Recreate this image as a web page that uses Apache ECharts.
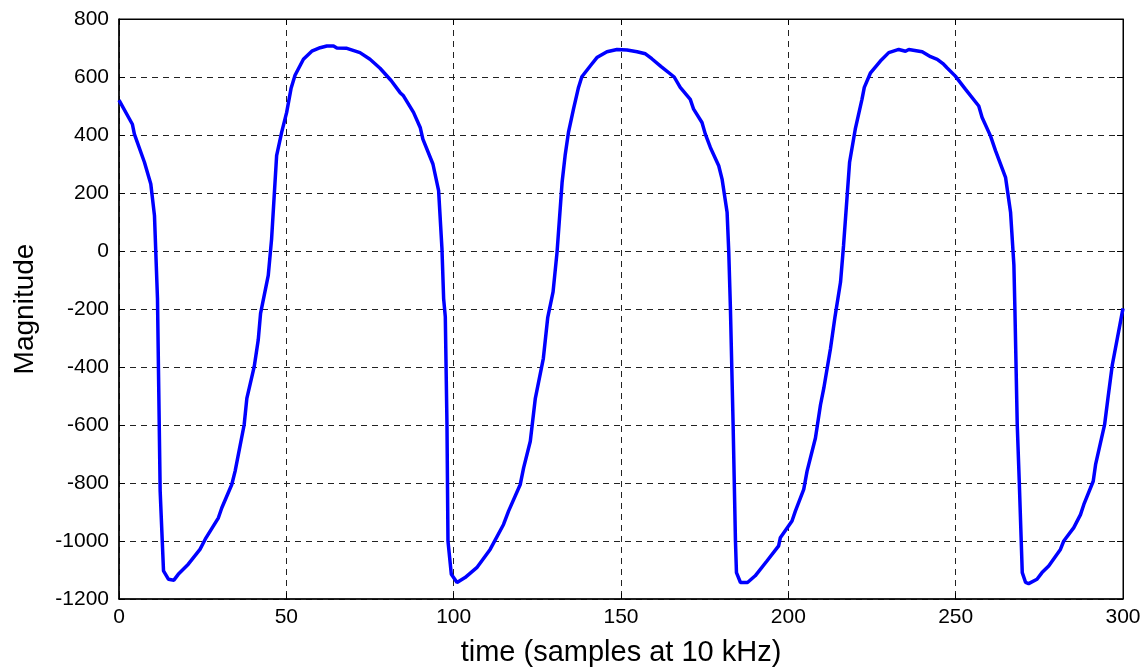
<!DOCTYPE html>
<html>
<head>
<meta charset="utf-8">
<script src="https://cdn.jsdelivr.net/npm/echarts@6/dist/echarts.min.js"></script>
<style>
html,body{margin:0;padding:0;background:#fff;}
#chart{width:1147px;height:672px;}
</style>
</head>
<body>
<div id="chart"></div>
<script>
// Data
var sampleX = [0,4.0,4.6,7.6,9.5,10.6,11.5,12.3,13.3,14.8,16.4,17.7,20.7,24.2,26.0,29.7,30.7,33.7,34.7,37.4,38.2,40.4,41.6,42.3,44.6,45.6,47.1,48.6,50.1,51.4,52.6,55.1,57.6,60.1,62.1,64.1,65.1,68.1,72.0,75.0,78.0,81.3,84.0,85.0,88.0,90.0,90.8,93.8,95.5,96.5,97.0,97.5,98.0,98.3,99.3,101.0,103.4,106.9,110.9,114.9,116.4,119.9,120.9,122.9,124.4,126.8,128.1,129.7,130.9,132.4,133.3,134.3,135.8,137.3,138.3,140.8,142.8,145.8,148.8,151.8,154.8,157.3,159.2,162.0,165.9,167.7,170.7,171.7,174.2,175.2,176.7,179.2,180.2,181.7,182.2,182.7,183.5,184.2,184.5,185.7,187.8,190.1,193.6,197.1,197.6,201.1,202.1,204.6,205.6,208.1,209.6,210.6,212.6,213.9,215.6,216.5,218.3,220.0,222.0,222.7,224.5,227.5,230.0,233.0,235.0,236.0,240.0,242.5,244.5,246.4,247.4,249.9,252.9,256.9,257.9,260.4,261.9,264.9,266.4,267.4,267.7,268.4,269.0,269.9,270.9,271.8,274.3,275.8,277.8,281.3,282.3,285.3,287.3,288.3,291.1,291.8,294.5,295.5,296.8,300];
var magnitude = [520,437,403,306,231,122,-164,-828,-1103,-1132,-1135,-1115,-1080,-1029,-989,-920,-886,-805,-759,-599,-508,-399,-307,-215,-84,42,329,409,478,560,606,661,689,701,707,707,700,699,684,661,630,588,546,535,478,426,386,300,208,8,-164,-227,-599,-1000,-1115,-1143,-1126,-1092,-1029,-943,-897,-805,-748,-656,-508,-370,-230,-141,-3,237,329,409,489,564,601,638,667,687,695,693,687,680,663,636,600,564,523,489,443,403,357,294,248,134,-3,-200,-599,-1000,-1109,-1143,-1143,-1120,-1069,-1017,-989,-931,-897,-822,-759,-645,-531,-473,-336,-230,-107,19,306,420,523,564,613,655,684,695,689,695,687,670,661,644,632,603,558,500,460,397,346,254,134,-49,-200,-599,-794,-1109,-1143,-1147,-1132,-1109,-1086,-1029,-1000,-954,-909,-874,-794,-737,-599,-508,-393,-198];
var xTicks = [0,50,100,150,200,250,300];
var yTicks = [-1200,-1000,-800,-600,-400,-200,0,200,400,600,800];
var xLabel = 'time (samples at 10 kHz)';
var yLabel = 'Magnitude';

var points = sampleX.map(function(x,i){return [x, magnitude[i]];});
var font = 'Liberation Sans, Arial, sans-serif';
var plain = function(v){return String(v);};

var chart = echarts.init(document.getElementById('chart'), null, {renderer:'canvas'});
var splitDash = {show:true, lineStyle:{color:'#222', width:1, type:[6,5]}};
chart.setOption({
  animation:false,
  backgroundColor:'#fff',
  grid:{left:119, right:24, top:19, bottom:69, show:true, borderColor:'#000', borderWidth:1, backgroundColor:'transparent'},
  xAxis:[{
    type:'value', min:xTicks[0], max:xTicks[xTicks.length-1], interval:50,
    name:xLabel, nameLocation:'middle', nameGap:39,
    nameTextStyle:{fontFamily:font, fontSize:29, color:'#000'},
    axisLine:{show:true, onZero:false, lineStyle:{color:'#000', width:1.5}},
    axisTick:{show:true, inside:true, length:6, lineStyle:{color:'#000'}},
    axisLabel:{fontFamily:font, fontSize:21, color:'#000', margin:8, formatter:plain},
    splitLine:splitDash
  },{
    type:'value', position:'top', min:0, max:300, interval:50,
    axisLine:{show:true, onZero:false, lineStyle:{color:'#000'}},
    axisTick:{show:true, inside:true, length:6, lineStyle:{color:'#000'}},
    axisLabel:{show:false}, splitLine:{show:false}
  }],
  yAxis:[{
    type:'value', min:yTicks[0], max:yTicks[yTicks.length-1], interval:200,
    name:yLabel, nameLocation:'middle', nameGap:80, nameRotate:90,
    nameTextStyle:{fontFamily:font, fontSize:28, color:'#000'},
    axisLine:{show:true, onZero:false, lineStyle:{color:'#000', width:1.5}},
    axisTick:{show:true, inside:true, length:6, lineStyle:{color:'#000'}},
    axisLabel:{fontFamily:font, fontSize:21, color:'#000', margin:10, formatter:plain},
    splitLine:splitDash
  },{
    type:'value', position:'right', min:-1200, max:800, interval:200,
    axisLine:{show:true, onZero:false, lineStyle:{color:'#000'}},
    axisTick:{show:true, inside:true, length:6, lineStyle:{color:'#000'}},
    axisLabel:{show:false}, splitLine:{show:false}
  }],
  series:[{
    type:'line', data:points, showSymbol:false, symbol:'none',
    lineStyle:{color:'#0000ff', width:3.5}, smooth:false, clip:true
  }]
});
</script>
</body>
</html>
